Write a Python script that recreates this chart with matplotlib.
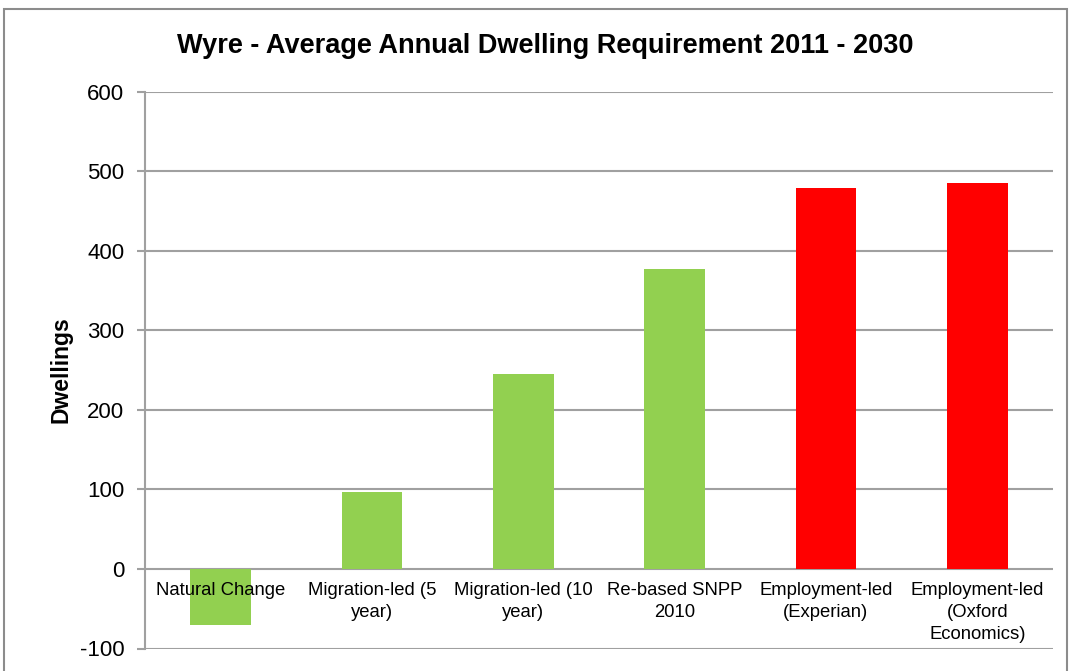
import matplotlib.pyplot as plt
from matplotlib.patches import Rectangle

plt.rcParams['font.family'] = ['Liberation Sans', 'DejaVu Sans']

# chart data
categories = ["Natural Change", "Migration-led (5\nyear)", "Migration-led (10\nyear)",
              "Re-based SNPP\n2010", "Employment-led\n(Experian)", "Employment-led\n(Oxford\nEconomics)"]
dwellings = [-71, 97, 245, 377, 479, 485]
bar_colors = ['#92D050', '#92D050', '#92D050', '#92D050', '#FF0000', '#FF0000']
yticks = [-100, 0, 100, 200, 300, 400, 500, 600]

fig = plt.figure(figsize=(10.75, 6.71), dpi=100)
# outer chart frame
fig.patches.append(Rectangle((4 / 1075, -0.05), 1063 / 1075, 1.05 - 9 / 671,
                             transform=fig.transFigure, fill=False,
                             edgecolor='#8c8c8c', linewidth=1.5))

ax = fig.add_axes([145 / 1075, 1 - 648.5 / 671, 908 / 1075, 557 / 671])
x = range(len(categories))
ax.bar(x, dwellings, width=0.4, color=bar_colors, zorder=2)

ax.set_xlim(-0.5, len(categories) - 0.5)
ax.set_ylim(-100, 600)
ax.set_yticks(yticks)
ax.set_yticklabels([str(v) for v in yticks], fontsize=16)
ax.tick_params(axis='y', length=6, width=1.5, color='#a0a0a0', pad=9)
ax.set_xticks([])
ax.grid(axis='y', color='#a0a0a0', linewidth=1.5, zorder=1)
ax.set_axisbelow(True)
for s in ['top', 'right', 'bottom']:
    ax.spines[s].set_visible(False)
ax.spines['left'].set_color('#a0a0a0')
ax.spines['left'].set_linewidth(1.5)

# category labels sit just under the zero line
for i, lab in enumerate(categories):
    ax.text(i, -17, lab, ha='center', va='top', fontsize=13.3,
            linespacing=1.38, zorder=3)

ax.set_ylabel("Dwellings", fontsize=16.5, fontweight='bold', labelpad=5)
fig.text(545 / 1075, 1 - 46 / 671, "Wyre - Average Annual Dwelling Requirement 2011 - 2030",
         ha='center', va='center', fontsize=19.5, fontweight='bold')

plt.savefig("out.png", dpi=100)
